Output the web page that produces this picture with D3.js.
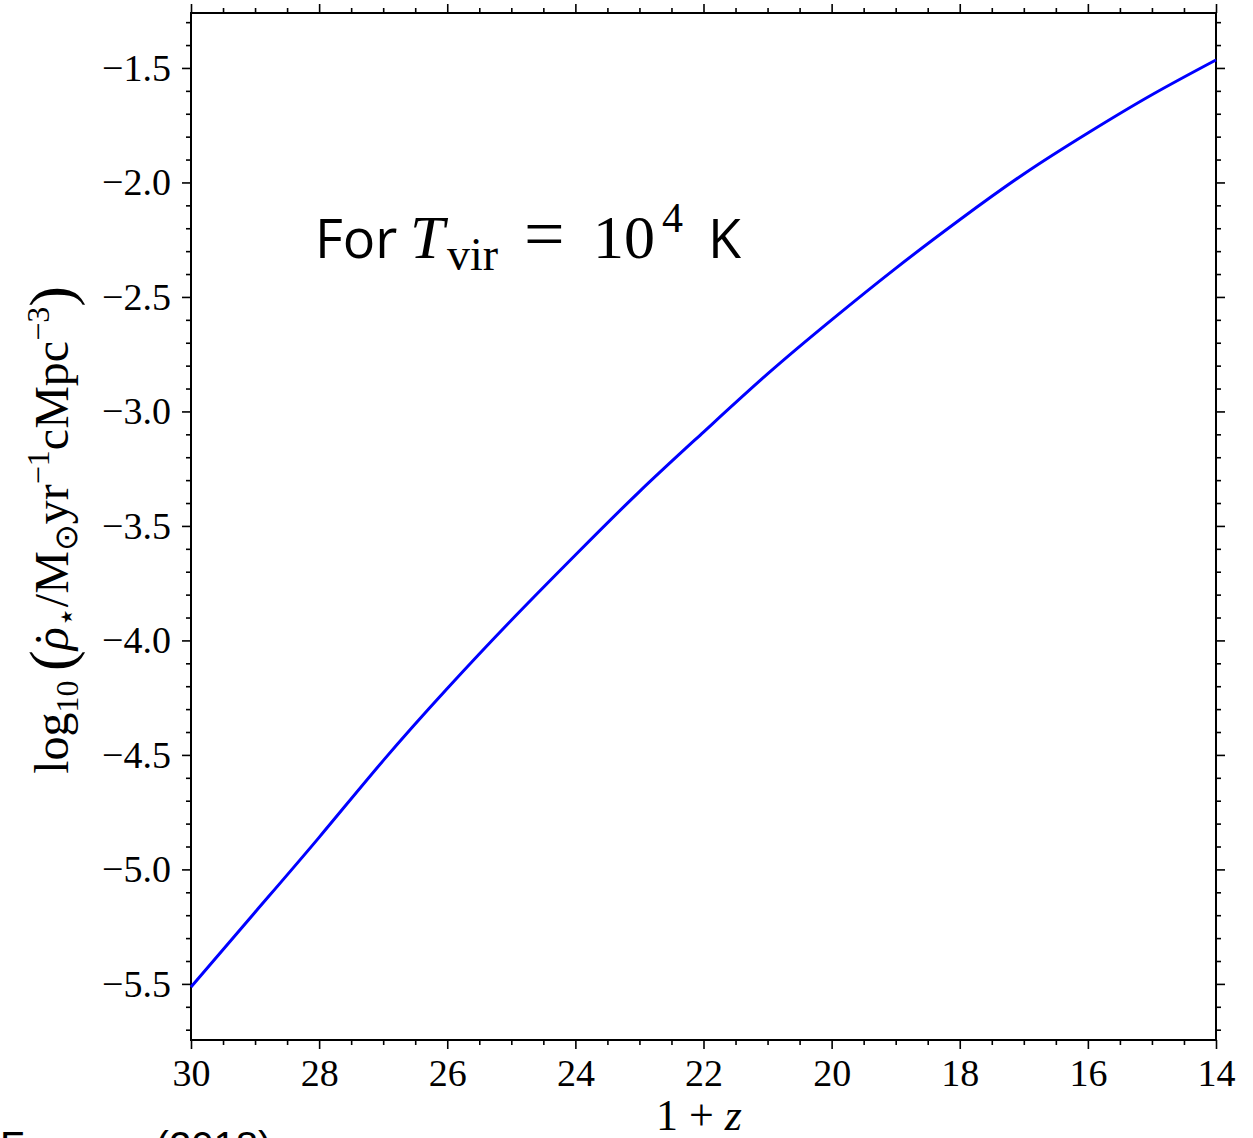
<!DOCTYPE html>
<html lang="en">
<head>
    <meta charset="UTF-8">
    <title>SFRD vs redshift</title>
    <style>
        body { margin: 0; padding: 0; background: #ffffff; }
        svg { display: block; }
        .tick text { font-family: "Liberation Serif", "DejaVu Serif", serif; }
    </style>
    <script src="https://d3js.org/d3.v7.min.js"></script>
</head>
<body>
    <script>
        // data (1+z vs log10 SFRD)
        const onePlusZ = [30, 29, 28, 27, 26, 25, 24, 23, 22, 21, 20, 19, 18, 17, 16, 15, 14];
        const logSfrd = [-5.514, -5.187, -4.860, -4.525, -4.210, -3.912, -3.627, -3.350, -3.090, -2.836, -2.600, -2.375, -2.163, -1.963, -1.784, -1.617, -1.465];
        const xTicks = [30, 28, 26, 24, 22, 20, 18, 16, 14];
        const yTicks = [-1.5, -2.0, -2.5, -3.0, -3.5, -4.0, -4.5, -5.0, -5.5];

        const width = 1253, height = 1138;
        const mLeft = 191, mRight = 1216, mTop = 13, mBottom = 1040;

        const svg = d3.select("body").append("svg")
            .attr("width", width)
            .attr("height", height);

        const x = d3.scaleLinear().domain([30, 14]).range([mLeft, mRight]);
        const y = d3.scaleLinear().domain([-5.745, -1.26]).range([mBottom, mTop]);

        const xMinor = d3.range(14, 30.01, 0.5).filter(v => !xTicks.includes(v));
        const yMinor = d3.range(-5.7, -1.25, 0.1).map(v => +v.toFixed(1)).filter(v => !yTicks.some(t => Math.abs(t - v) < 1e-6));

        function styleAxis(g) {
            g.selectAll(".domain").remove();
            g.selectAll(".tick line").attr("stroke", "#000").attr("stroke-width", 1.6);
        }

        // bottom
        svg.append("g").attr("transform", `translate(0,${mBottom})`)
            .call(d3.axisBottom(x).tickValues(xTicks).tickSize(9).tickPadding(10).tickFormat(d3.format("d")))
            .call(styleAxis)
            .selectAll("text").attr("font-size", 38).attr("fill", "#000");
        svg.append("g").attr("transform", `translate(0,${mBottom})`)
            .call(d3.axisBottom(x).tickValues(xMinor).tickSize(5).tickFormat(""))
            .call(styleAxis);
        // top
        svg.append("g").attr("transform", `translate(0,${mTop})`)
            .call(d3.axisTop(x).tickValues(xTicks).tickSize(9).tickFormat(""))
            .call(styleAxis);
        svg.append("g").attr("transform", `translate(0,${mTop})`)
            .call(d3.axisTop(x).tickValues(xMinor).tickSize(5).tickFormat(""))
            .call(styleAxis);
        // left
        svg.append("g").attr("transform", `translate(${mLeft},0)`)
            .call(d3.axisLeft(y).tickValues(yTicks).tickSize(9).tickPadding(11).tickFormat(d => d3.format(".1f")(d).replace("-", "\u2212")))
            .call(styleAxis)
            .selectAll("text").attr("font-size", 38).attr("fill", "#000");
        svg.append("g").attr("transform", `translate(${mLeft},0)`)
            .call(d3.axisLeft(y).tickValues(yMinor).tickSize(5).tickFormat(""))
            .call(styleAxis);
        // right
        svg.append("g").attr("transform", `translate(${mRight},0)`)
            .call(d3.axisRight(y).tickValues(yTicks).tickSize(9).tickFormat(""))
            .call(styleAxis);
        svg.append("g").attr("transform", `translate(${mRight},0)`)
            .call(d3.axisRight(y).tickValues(yMinor).tickSize(5).tickFormat(""))
            .call(styleAxis);

        // frame
        svg.append("rect")
            .attr("x", mLeft).attr("y", mTop)
            .attr("width", mRight - mLeft).attr("height", mBottom - mTop)
            .attr("fill", "none").attr("stroke", "#000").attr("stroke-width", 2);

        // curve
        const line = d3.line()
            .x((d, i) => x(onePlusZ[i]))
            .y(d => y(d))
            .curve(d3.curveNatural);
        svg.append("path")
            .datum(logSfrd)
            .attr("d", line)
            .attr("fill", "none")
            .attr("stroke", "#0000ff")
            .attr("stroke-width", 3);

        // x label
        const xl = svg.append("text")
            .attr("x", 699).attr("y", 1130)
            .attr("text-anchor", "middle")
            .attr("font-family", "Liberation Serif, serif")
            .attr("font-size", 44);
        xl.append("tspan").text("1 + ");
        xl.append("tspan").attr("font-style", "italic").text("z");

        // y label
        const yl = svg.append("text")
            .attr("transform", "translate(68,530) rotate(-90)")
            .attr("text-anchor", "middle")
            .attr("font-family", "Liberation Serif, serif")
            .attr("font-size", 48);
        yl.append("tspan").text("log");
        yl.append("tspan").attr("font-size", 32).attr("dy", 10).text("10");
        yl.append("tspan").attr("dy", -10).text("\u2009");
        yl.append("tspan").attr("font-size", 62).attr("dy", 4).text("(");
        yl.append("tspan").attr("dy", -4).attr("font-style", "italic").text("\u03c1");
        yl.append("tspan").attr("dx", -20).text("\u02d9");
        yl.append("tspan").attr("font-size", 32).attr("dx", 4).attr("dy", 9).text("\u22c6");
        yl.append("tspan").attr("dy", -9).text("/M");
        yl.append("tspan").attr("font-size", 32).attr("dy", 9).text("\u2299");
        yl.append("tspan").attr("dy", -9).text("yr");
        yl.append("tspan").attr("font-size", 32).attr("dy", -19).text("\u22121");
        yl.append("tspan").attr("dy", 19).text("cMpc");
        yl.append("tspan").attr("font-size", 32).attr("dy", -19).text("\u22123");
        yl.append("tspan").attr("font-size", 62).attr("dy", 23).text(")");

        // annotation
        const ann = svg.append("text")
            .attr("y", 258)
            .attr("fill", "#000");
        ann.append("tspan").attr("x", 315).attr("font-size", 54)
            .attr("font-family", "Open Sans, Noto Sans, sans-serif").text("For");
        ann.append("tspan").attr("x", 410).attr("font-size", 62)
            .attr("font-family", "Liberation Serif, serif").attr("font-style", "italic").text("T");
        ann.append("tspan").attr("x", 447).attr("y", 270).attr("font-size", 46)
            .attr("font-family", "Liberation Serif, serif").text("vir");
        ann.append("tspan").attr("x", 524).attr("y", 258).attr("font-size", 72)
            .attr("font-family", "Liberation Serif, serif").text("=");
        ann.append("tspan").attr("x", 593).attr("font-size", 62)
            .attr("font-family", "Liberation Serif, serif").text("10");
        ann.append("tspan").attr("x", 662).attr("y", 232).attr("font-size", 42)
            .attr("font-family", "Liberation Serif, serif").text("4");
        ann.append("tspan").attr("x", 708).attr("y", 258).attr("font-size", 54)
            .attr("font-family", "Open Sans, Noto Sans, sans-serif").text("K");

        // citation cut off at bottom edge
        svg.append("text")
            .attr("x", 0).attr("y", 1160)
            .attr("font-family", "Liberation Sans, Arial, sans-serif")
            .attr("font-size", 40)
            .text("Furness (2018)");
    </script>
</body>
</html>
